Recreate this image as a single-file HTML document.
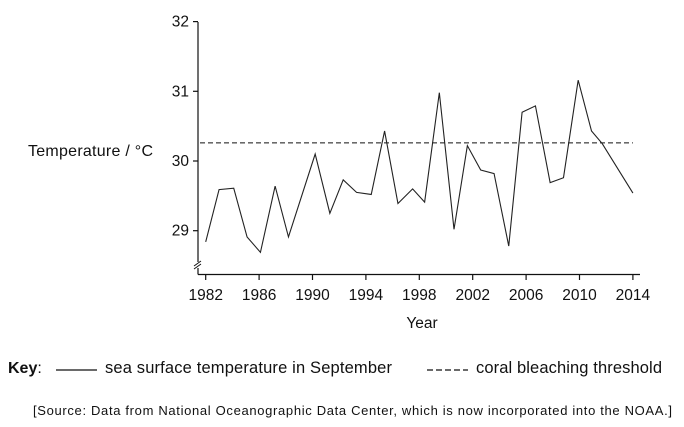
<!DOCTYPE html>
<html><head><meta charset="utf-8"><style>
body{margin:0;background:#fff;width:684px;height:427px;overflow:hidden;font-family:"Liberation Sans",Arial,sans-serif}
svg{display:block}
</style></head><body>
<svg id="chart" width="684" height="427" font-family="Liberation Sans, Arial, sans-serif" fill="#111">
<g id="axes"></g>
<g id="marks"></g>
<text x="28" y="156" font-size="16" textLength="125">Temperature / °C</text>
<text x="422" y="328" font-size="15.5" text-anchor="middle">Year</text>
<g>
<text x="8" y="373" font-size="16"><tspan font-weight="bold">Key</tspan>:</text>
<line x1="56" y1="370" x2="97" y2="370" stroke="#111" stroke-width="1.2"/>
<text x="105" y="373" font-size="16.5" textLength="287">sea surface temperature in September</text>
<line x1="427" y1="370" x2="468" y2="370" stroke="#111" stroke-width="1.2" stroke-dasharray="6,3"/>
<text x="476" y="373" font-size="16.5" textLength="186">coral bleaching threshold</text>
</g>
<text x="33" y="415" font-size="13" textLength="639">[Source: Data from National Oceanographic Data Center, which is now incorporated into the NOAA.]</text>
</svg>
<script>
const years=[1982,1983,1984.1,1985.1,1986.1,1987.2,1988.2,1990.2,1991.3,1992.3,1993.3,1994.4,1995.4,1996.4,1997.5,1998.4,1999.5,2000.6,2001.6,2002.6,2003.6,2004.7,2005.7,2006.7,2007.8,2008.8,2009.9,2010.9,2011.7,2014];
const temps=[28.84,29.59,29.61,28.91,28.69,29.64,28.91,30.10,29.25,29.73,29.55,29.52,30.43,29.39,29.60,29.41,30.98,29.02,30.22,29.87,29.82,28.78,30.70,30.79,29.69,29.76,31.16,30.43,30.25,29.54];
const threshold=[30.26];
const xTicks=[1982,1986,1990,1994,1998,2002,2006,2010,2014];
const yTicks=[29,30,31,32];
const NS="http://www.w3.org/2000/svg";
const X=v=>205.7+(v-1982)*13.35;
const Y=v=>161-(v-30)*69.7;
function mk(t,a,p){const e=document.createElementNS(NS,t);for(const k in a)e.setAttribute(k,a[k]);p.appendChild(e);return e;}
const ax=document.getElementById('axes'),mg=document.getElementById('marks');
let e=mk('line',{x1:198,y1:22,x2:198,y2:262,stroke:'#111','stroke-width':1.2},ax);


e=mk('line',{x1:198,y1:268,x2:198,y2:274.5,stroke:'#111','stroke-width':1.2},ax);


e=mk('path',{d:'M194,266 L201,261 M194,269 L201,264',stroke:'#111','stroke-width':1,fill:'none'},ax);


e=mk('line',{x1:198,y1:274.5,x2:640,y2:274.5,stroke:'#111','stroke-width':1.2},ax);


yTicks.forEach(v=>{
 let t=mk('line',{x1:193,y1:Y(v),x2:198,y2:Y(v),stroke:'#111','stroke-width':1.2},ax);
 
 
 let l=mk('text',{x:189,y:Y(v)+5,'font-size':15.5,'text-anchor':'end'},ax);l.textContent=v;
 
 
});
xTicks.forEach(v=>{
 let t=mk('line',{x1:X(v),y1:274.5,x2:X(v),y2:280,stroke:'#111','stroke-width':1.2},ax);
 
 
 let l=mk('text',{x:X(v),y:300,'font-size':15.5,'text-anchor':'middle'},ax);l.textContent=v;
 
 
});
e=mk('line',{x1:200,y1:Y(threshold[0]),x2:X(2014),y2:Y(threshold[0]),stroke:'#111','stroke-width':1.1,'stroke-dasharray':'5,3'},mg);


e=mk('polyline',{points:years.map((y,i)=>X(y)+','+Y(temps[i])).join(' '),fill:'none',stroke:'#222','stroke-width':1.1},mg);


</script>
</body></html>
